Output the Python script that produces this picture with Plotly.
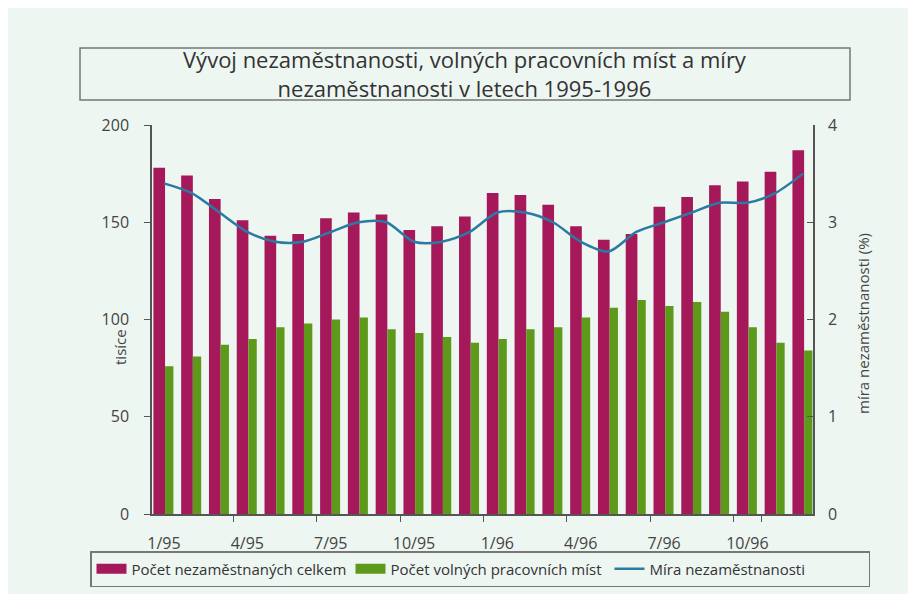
import plotly.graph_objects as go

months = ["1/95","2/95","3/95","4/95","5/95","6/95","7/95","8/95","9/95","10/95","11/95","12/95",
          "1/96","2/96","3/96","4/96","5/96","6/96","7/96","8/96","9/96","10/96","11/96","12/96"]
nezamestnani = [178,174,162,151,143,144,152,155,154,146,148,153,165,164,159,148,141,144,158,163,169,171,176,187]
volna_mista = [76,81,87,90,96,98,100,101,95,93,91,88,90,95,96,101,106,110,107,109,104,96,88,84]
mira = [3.4,3.3,3.1,2.9,2.8,2.8,2.9,3.0,3.0,2.8,2.8,2.9,3.1,3.1,3.0,2.8,2.7,2.9,3.0,3.1,3.2,3.2,3.3,3.5]
tick_labels = ["1/95","4/95","7/95","10/95","1/96","4/96","7/96","10/96"]

FONT = "Open Sans"
GRAY = "#555555"
MAGENTA = "#a5195b"
GREEN = "#5d9a1b"
BLUE = "#2a7aa2"
OFF = 8  # page body margin
W, H = 916 - OFF, 594 - OFF
# plot area in screen pixels
L, R, T, B = 152, 813, 125, 514

def px(x):
    return (x - L) / (R - L)

def py(y):
    return (B - y) / (B - T)

fig = go.Figure()
fig.add_trace(go.Bar(x=months, y=nezamestnani, name="Počet nezaměstnaných celkem",
                     marker=dict(color=MAGENTA, line=dict(width=0)),
                     width=0.42, offset=-0.38, showlegend=False))
fig.add_trace(go.Bar(x=months, y=volna_mista, name="Počet volných pracovních míst",
                     marker=dict(color=GREEN, line=dict(width=0)),
                     width=0.30, offset=0.04, showlegend=False))
fig.add_trace(go.Scatter(x=months, y=mira, name="Míra nezaměstnanosti", yaxis="y2",
                         mode="lines", showlegend=False,
                         line=dict(color=BLUE, width=2.5, shape="spline", smoothing=0.8)))
# legend entries (swatches styled like the reference)
fig.add_trace(go.Scatter(x=[None], y=[None], mode="lines", name="Počet nezaměstnaných celkem",
                         line=dict(color=MAGENTA, width=10)))
fig.add_trace(go.Scatter(x=[None], y=[None], mode="lines", name="Počet volných pracovních míst",
                         line=dict(color=GREEN, width=10)))
fig.add_trace(go.Scatter(x=[None], y=[None], mode="lines", name="Míra nezaměstnanosti",
                         line=dict(color=BLUE, width=2.5)))

fig.update_layout(
    width=W, height=H,
    margin=dict(l=L - OFF, r=W - (R - OFF), t=T - OFF, b=H - (B - OFF), autoexpand=False),
    paper_bgcolor="#eef6f2", plot_bgcolor="rgba(0,0,0,0)",
    barmode="overlay",
    font=dict(family=FONT, color="#444444", size=15),
    xaxis=dict(type="category", range=[-0.43, 23.36], tickmode="array",
               tickvals=tick_labels, ticktext=tick_labels, tickson="boundaries", tickangle=0,
               ticks="outside", ticklen=6, tickcolor=GRAY, showline=True, linecolor=GRAY,
               linewidth=1.5, showgrid=False, zeroline=False, ticklabelstandoff=14,
               tickfont=dict(size=16), automargin=False),
    yaxis=dict(range=[0, 200], tickvals=[0, 50, 100, 150, 200], ticks="outside", ticklen=6,
               tickcolor=GRAY, showline=True, linecolor=GRAY, linewidth=1.5, showgrid=False,
               zeroline=False, ticklabelstandoff=12, tickfont=dict(size=16), automargin=False),
    yaxis2=dict(range=[0, 4], tickvals=[0, 1, 2, 3, 4], overlaying="y", side="right",
                ticks="inside", ticklen=6, tickcolor=GRAY, showline=True, linecolor=GRAY,
                linewidth=1.5, showgrid=False, zeroline=False, ticklabelstandoff=10,
                tickfont=dict(size=16), automargin=False),
    legend=dict(orientation="h", x=px(90), y=py(551), xanchor="left", yanchor="top",
                bordercolor="#777777", borderwidth=1.5, bgcolor="rgba(0,0,0,0)",
                font=dict(size=15, color="#333333"), entrywidth=214, entrywidthmode="pixels",
                traceorder="normal"),
    showlegend=True,
)

fig.add_shape(type="rect", xref="paper", yref="paper", x0=px(80), x1=px(850), y0=py(100), y1=py(48),
              fillcolor="rgba(0,0,0,0)", line=dict(color="#777777", width=1.5), layer="above")

fig.add_annotation(text="Vývoj nezaměstnanosti, volných pracovních míst a míry<br>nezaměstnanosti v letech 1995-1996",
                   xref="paper", yref="paper", x=px(465), y=py(74), xanchor="center", yanchor="middle",
                   showarrow=False, font=dict(size=22, color="#333333"), align="center")
fig.add_annotation(text="tisíce", xref="paper", yref="paper", x=px(120), y=py(347),
                   xanchor="center", yanchor="middle",
                   textangle=-90, showarrow=False, font=dict(size=15, color="#444444"))
fig.add_annotation(text="míra nezaměstnanosti (%)", xref="paper", yref="paper", x=px(863), y=py(324),
                   xanchor="center", yanchor="middle",
                   textangle=-90, showarrow=False, font=dict(size=15, color="#444444"))

fig.write_html("out.html")
